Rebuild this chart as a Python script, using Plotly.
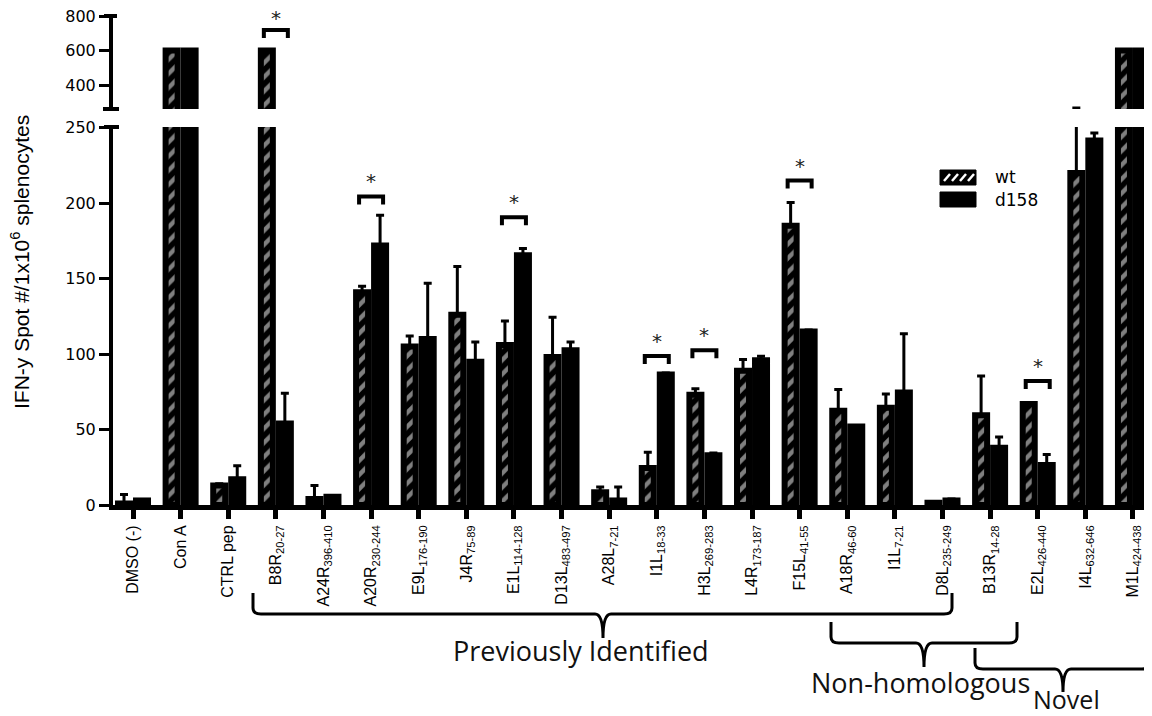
import plotly.graph_objects as go

categories = ["DMSO (-)", "Con A", "CTRL pep", "B8R<sub>20-27</sub>", "A24R<sub>396-410</sub>",
              "A20R<sub>230-244</sub>", "E9L<sub>176-190</sub>", "J4R<sub>75-89</sub>",
              "E1L<sub>114-128</sub>", "D13L<sub>483-497</sub>", "A28L<sub>7-21</sub>",
              "I1L<sub>18-33</sub>", "H3L<sub>269-283</sub>", "L4R<sub>173-187</sub>",
              "F15L<sub>41-55</sub>", "A18R<sub>46-60</sub>", "I1L<sub>7-21</sub>",
              "D8L<sub>235-249</sub>", "B13R<sub>14-28</sub>", "E2L<sub>426-440</sub>",
              "I4L<sub>632-646</sub>", "M1L<sub>424-438</sub>"]
wt = [1, 600, 13, 600, 4, 141, 105, 126, 106, 98, 8.5, 24.5, 73, 89, 185, 62.5, 64.5, 1.5, 59.5, 67, 220, 600]
wt_err = [6, 0, 1, 0, 9, 4, 7, 32, 16, 26.5, 3.5, 10.5, 4, 7.5, 15.5, 14, 9, 0.5, 26, 1, 47, 3]
d158 = [3, 600, 17, 54, 5.5, 172, 110, 95, 165.5, 102.5, 3, 86.5, 33, 96, 115, 52, 74.5, 3, 38, 26.5, 241.5, 600]
d158_err = [0.5, 0, 9, 20, 0.5, 20, 37, 13, 4.5, 5.5, 9, 1, 1.5, 2.5, 1, 0, 39, 1, 7, 7, 5, 0]

sig_idx = [3, 5, 8, 11, 12, 14, 19]
sig_y = [719, 204.5, 190.7, 98.8, 102.5, 215, 82.2]
sig_ref = ["y2", "y", "y", "y", "y", "y", "y"]

y_ticks_low = [0, 50, 100, 150, 200, 250]
y_ticks_high = [400, 600, 800]

xs = list(range(len(categories)))
n = len(categories)

fig = go.Figure()
for xa, ya in (("x", "y"), ("x2", "y2")):
    fig.add_trace(go.Bar(
        x=xs, y=wt, name="wt", xaxis=xa, yaxis=ya, showlegend=False,
        marker=dict(color="black", line=dict(color="black", width=6),
                    pattern=dict(shape="/", fgcolor="white", bgcolor="black", size=10, solidity=0.45)),
        error_y=dict(type="data", symmetric=False, array=wt_err, arrayminus=[0] * n,
                     color="black", thickness=3, width=4)))
    fig.add_trace(go.Bar(
        x=xs, y=d158, name="d158", xaxis=xa, yaxis=ya, showlegend=False,
        marker=dict(color="black", line=dict(color="black", width=6)),
        error_y=dict(type="data", symmetric=False, array=d158_err, arrayminus=[0] * n,
                     color="black", thickness=3, width=4)))

PAGE = 8          # browser body margin
OX, OY = 113, 505  # plot origin in page pixels
TOP = 16


def rel(px, py):
    return px - OX, OY - py


shapes = []
annotations = []

# significance brackets
for i, yb, ref in zip(sig_idx, sig_y, sig_ref):
    shapes.append(dict(type="path", xref="x", yref=ref, xsizemode="pixel", ysizemode="pixel",
                       xanchor=i, yanchor=yb, path="M-12,-8 L-12,0 L12,0 L12,-8",
                       line=dict(color="black", width=4)))
    annotations.append(dict(x=i, y=yb, xref="x", yref=ref, text="*", showarrow=False,
                            yshift=12 if ref == "y2" else 15,
                            font=dict(size=20, color="#222", family="DejaVu Sans")))


def pshape(path, width=3, color="black"):
    return dict(type="path", xref="paper", yref="paper", xsizemode="pixel", ysizemode="pixel",
                xanchor=0, yanchor=0, path=path, line=dict(color=color, width=width))


def bracket(xl, xr, ytop, yh, xn, yn):
    a = rel(xl, ytop); b = rel(xl, yh); c = rel(xn, yh); d = rel(xn, yn); e = rel(xr, yh); f = rel(xr, ytop)
    return (f"M{a[0]},{a[1]} L{b[0]},{b[1]+6} Q{b[0]},{b[1]} {b[0]+8},{b[1]} L{c[0]-8},{c[1]} "
            f"Q{c[0]},{c[1]} {d[0]},{d[1]} Q{c[0]},{c[1]} {c[0]+8},{c[1]} L{e[0]-8},{e[1]} "
            f"Q{e[0]},{e[1]} {e[0]},{e[1]+6} L{f[0]},{f[1]}")


shapes.append(pshape(bracket(253, 952, 593, 614, 603, 638)))
shapes.append(pshape(bracket(831, 1017, 622, 643, 924, 667)))
shapes.append(pshape(bracket(975, 1150, 648, 669, 1063, 692)))

# axis end caps
for (x0, x1, yy) in ((103, 119, 109), (104, 119, 127), (104, 117, 16)):
    p0 = rel(x0, yy); p1 = rel(x1, yy)
    shapes.append(pshape(f"M{p0[0]},{p0[1]} L{p1[0]},{p1[1]}", width=4))

# manual legend
a = rel(940, 170); b = rel(976, 185)
shapes.append(pshape(f"M{a[0]},{a[1]} L{b[0]},{a[1]} L{b[0]},{b[1]} L{a[0]},{b[1]} Z", width=1))
shapes[-1]["fillcolor"] = "black"
for hx in (947, 955, 963, 971):
    p0 = rel(hx - 3, 181); p1 = rel(hx + 3, 174)
    shapes.append(pshape(f"M{p0[0]},{p0[1]} L{p1[0]},{p1[1]}", width=2.5, color="white"))
a = rel(940, 192); b = rel(976, 207)
shapes.append(pshape(f"M{a[0]},{a[1]} L{b[0]},{a[1]} L{b[0]},{b[1]} L{a[0]},{b[1]} Z", width=1))
shapes[-1]["fillcolor"] = "black"

W, H = 1152 - OX, OY - TOP


def px2paper(px, py):
    return (px - OX) / W, (OY - py) / H


for txt, (px, py) in (("wt", (993, 177)), ("d158", (993, 200))):
    xp, yp = px2paper(px, py)
    annotations.append(dict(x=xp, y=yp, xref="paper", yref="paper", text=txt, showarrow=False,
                            xanchor="left", yanchor="middle",
                            font=dict(size=17, color="black", family="DejaVu Sans")))

for txt, (px, py), sz in (("Previously Identified", (581, 650), 27),
                          ("Non-homologous", (920, 682), 27),
                          ("Novel", (1066, 699), 25)):
    xp, yp = px2paper(px, py)
    annotations.append(dict(x=xp, y=yp, xref="paper", yref="paper", text=txt, showarrow=False,
                            xanchor="center", yanchor="middle",
                            font=dict(size=sz, color="#111", family="Open Sans")))

xp, yp = px2paper(20, 262)
annotations.append(dict(x=xp, y=yp, xref="paper", yref="paper",
                        text="IFN-y Spot #/1x10<sup>6</sup> splenocytes", textangle=-90,
                        showarrow=False, xanchor="center", yanchor="middle",
                        font=dict(size=21, color="black", family="Liberation Sans Narrow, Arial Narrow, sans-serif")))

low_top = (OY - 127) / H
high_bot = (OY - 109) / H

fig.update_layout(
    width=1152 - PAGE, height=716 - PAGE,
    margin=dict(l=OX - PAGE, r=0, t=TOP - PAGE, b=716 - OY, pad=0),
    paper_bgcolor="white", plot_bgcolor="white",
    barmode="group", bargap=0.244, bargroupgap=0.333,
    showlegend=False,
    shapes=shapes, annotations=annotations,
    xaxis=dict(domain=[0, 1], range=[-0.42, 21.4], tickvals=xs, ticktext=categories,
               tickangle=-90, ticks="outside", ticklen=9, tickwidth=5, tickcolor="black",
               showline=True, linewidth=5, linecolor="black", showgrid=False, zeroline=False,
               anchor="y", ticklabeloverflow="allow",
               tickfont=dict(size=16, color="black", family="Liberation Sans Narrow, Arial Narrow, sans-serif")),
    xaxis2=dict(domain=[0, 1], range=[-0.42, 21.4], matches="x", visible=False, anchor="y2"),
    yaxis=dict(domain=[0, low_top], range=[0, 250.5], tickvals=y_ticks_low,
               ticks="outside", ticklen=10, tickwidth=3, tickcolor="black",
               showline=True, linewidth=4, linecolor="black", showgrid=False, zeroline=False,
               anchor="x", ticklabeloverflow="allow",
               tickfont=dict(size=16, color="black", family="DejaVu Sans")),
    yaxis2=dict(domain=[high_bot, 1], range=[261, 801], tickvals=y_ticks_high,
                ticks="outside", ticklen=10, tickwidth=3, tickcolor="black",
                showline=True, linewidth=4, linecolor="black", showgrid=False, zeroline=False,
                anchor="x2", ticklabeloverflow="allow",
                tickfont=dict(size=16, color="black", family="DejaVu Sans")),
)

fig.write_html("out.html")
